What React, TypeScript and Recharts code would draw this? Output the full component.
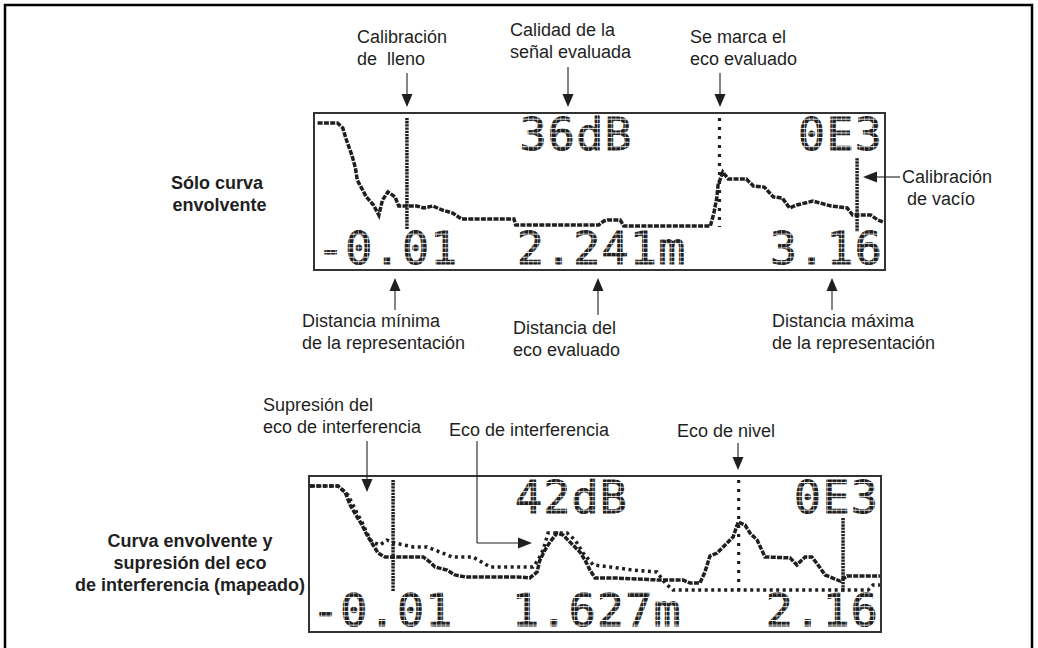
import { LineChart, Line, XAxis, YAxis, ReferenceLine } from "recharts";

// upper display: "Sólo curva envolvente" (distance in m, amplitude in LCD rows)
const topDist = [0.01, 0.12, 0.15, 0.17, 0.2, 0.22, 0.23, 0.26, 0.28, 0.32, 0.35, 0.37, 0.4, 0.44, 0.46, 0.56, 0.6, 0.65, 0.7, 0.76, 0.81, 1.1, 1.11, 1.57, 1.6, 1.62, 1.69, 1.71, 2.19, 2.21, 2.227, 2.233, 2.26, 2.29, 2.39, 2.43, 2.49, 2.54, 2.59, 2.63, 2.67, 2.76, 2.86, 2.95, 2.98, 3.08, 3.12, 3.15];
const topAmp = [59.9, 59.9, 57.9, 53, 46.9, 41.6, 36.7, 32.6, 29.8, 26.5, 22.4, 28.5, 31.8, 29.8, 26.1, 26.1, 25.3, 26.1, 24.5, 23.2, 20.8, 20.8, 18.3, 18.3, 20, 20.4, 20.4, 17.9, 17.9, 23.2, 29.8, 34.6, 39.9, 37.1, 37.1, 34.2, 33.8, 29.8, 29.3, 25.3, 26.5, 28.1, 26.1, 25.3, 22.4, 22.4, 20.4, 19.6];

// lower display: envelope + interference echo suppression map
const envDist = [-0.006, 0.1, 0.127, 0.146, 0.168, 0.191, 0.21, 0.233, 0.252, 0.278, 0.423, 0.449, 0.468, 0.514, 0.544, 0.582, 0.779, 0.828, 0.855, 0.866, 0.885, 0.904, 0.931, 0.954, 0.98, 1.018, 1.037, 1.056, 1.075, 1.143, 1.322, 1.409, 1.436, 1.473, 1.492, 1.511, 1.538, 1.576, 1.599, 1.618, 1.644, 1.663, 1.69, 1.72, 1.815, 1.841, 1.872, 1.898, 1.921, 1.948, 2.005, 2.031, 2.156];
const envAmp = [59.9, 59.9, 57.4, 52.1, 48, 43.9, 39.8, 35.7, 32.4, 30.8, 30.8, 28.7, 26.7, 25.4, 23.4, 22.6, 22.6, 22.2, 24.6, 29.5, 33.6, 36.9, 40.6, 39.8, 36.9, 32.8, 29.5, 25.4, 22.2, 22.2, 21.3, 21.3, 20.1, 20.1, 24.6, 31.2, 32.4, 36.5, 39, 45.1, 43.9, 40.6, 37.7, 30.8, 30.4, 27.5, 30.8, 30.8, 27.5, 23.4, 20.9, 23, 23];
const mapDist = [-0.006, 0.1, 0.138, 0.157, 0.176, 0.191, 0.21, 0.229, 0.259, 0.286, 0.316, 0.385, 0.438, 0.487, 0.533, 0.612, 0.677, 0.84, 0.859, 0.878, 0.897, 0.969, 1.0, 1.03, 1.068, 1.132, 1.219, 1.31, 1.341, 1.371, 2.111, 2.13, 2.156];
const mapAmp = [59.9, 59.9, 56.2, 52.1, 48, 45.1, 40.6, 36.9, 35.7, 37.7, 36.5, 34.9, 34.9, 32.8, 30.8, 30.8, 26.7, 26.7, 29.5, 33.6, 40.6, 40.6, 37.7, 32.4, 27.5, 26.7, 25.4, 24.6, 20.1, 17.2, 17.2, 19.3, 19.3];

// vertical markers: distance, from / to amplitude
const topMarkers = [
  { kind: "cal", x: 0.506, from: 62, to: 16.3 },
  { kind: "echo", x: 2.241, from: 62, to: 17.5 },
  { kind: "cal", x: 3.005, from: 45.6, to: 15.5 },
];
const bottomMarkers = [
  { kind: "cal", x: 0.309, from: 62.4, to: 16.4 },
  { kind: "echo", x: 1.62, from: 62.4, to: 16.4 },
  { kind: "cal", x: 2.016, from: 46.8, to: 16.4 },
];

// LCD readouts
const topReadout = ["36dB", "0E3", "-0.01", "2.241m", "3.16"];
const bottomReadout = ["42dB", "0E3", "-0.01", "1.627m", "2.16"];
const topRange = [-0.01, 3.16];
const bottomRange = [-0.01, 2.16];

const zip = (xs: number[], ys: number[]) => xs.map((x, i) => ({ x, y: ys[i] }));

const INK = "#1f1f1f";
const FONT = "'Liberation Sans', Arial, sans-serif";
const LCD_FONT = "'DejaVu Sans Mono', monospace";

function Lcd({ left, top, width, height, range, series, markers }: any) {
  return (
    <div style={{ position: "absolute", left, top }}>
      <LineChart width={width} height={height} margin={{ top: 0, right: 0, bottom: 0, left: 0 }}>
        <XAxis type="number" dataKey="x" domain={range} hide allowDataOverflow />
        <YAxis type="number" domain={[0, 64]} hide allowDataOverflow />
        {markers.map((m: any, i: number) => (
          <ReferenceLine
            key={i}
            segment={[{ x: m.x, y: m.from }, { x: m.x, y: m.to }]}
            stroke={INK}
            strokeWidth={m.kind === "cal" ? 3.5 : 3.2}
            strokeDasharray={m.kind === "cal" ? "2.3 0.9" : "3 6"}
          />
        ))}
        {series.map((s: any, i: number) => (
          <Line
            key={i}
            data={s.data}
            dataKey="y"
            type="linear"
            dot={false}
            stroke={INK}
            strokeWidth={3.5}
            strokeDasharray={s.dotted ? "3 3.5" : "5 1.3"}
            isAnimationActive={false}
          />
        ))}
      </LineChart>
    </div>
  );
}

function ArrowV({ x, y1, y2 }: { x: number; y1: number; y2: number }) {
  // shaft from y1 to arrow tip at y2
  const dir = y2 > y1 ? 1 : -1;
  return (
    <g>
      <line x1={x} y1={y1} x2={x} y2={y2 - dir * 12} stroke={INK} strokeWidth={1.1} />
      <polygon points={`${x - 5.5},${y2 - dir * 13} ${x + 5.5},${y2 - dir * 13} ${x},${y2}`} fill={INK} />
    </g>
  );
}

function ArrowH({ x1, x2, y }: { x1: number; x2: number; y: number }) {
  const dir = x2 > x1 ? 1 : -1;
  return (
    <g>
      <line x1={x1} y1={y} x2={x2 - dir * 12} y2={y} stroke={INK} strokeWidth={1.1} />
      <polygon points={`${x2 - dir * 14},${y - 5.5} ${x2 - dir * 14},${y + 5.5} ${x2},${y}`} fill={INK} />
    </g>
  );
}

function Lbl({ x, y, lines, bold, anchor }: any) {
  return (
    <text
      x={x}
      y={y}
      fontFamily={FONT}
      fontSize={18}
      fontWeight={bold ? 700 : 400}
      fill={INK}
      textAnchor={anchor || "start"}
    >
      {lines.map((t: string, i: number) => (
        <tspan key={i} x={x} dy={i === 0 ? 0 : 22} style={{ whiteSpace: "pre" }}>
          {t}
        </tspan>
      ))}
    </text>
  );
}

function Readout({ box, texts }: any) {
  const { left, top, width, height } = box;
  const base1 = top + 37;
  const base2 = top + height - 6;
  const common = {
    fontFamily: LCD_FONT,
    fontSize: 45,
    fill: "url(#lcdpx)",
    stroke: "url(#lcdpx)",
    strokeWidth: 0.9,
    letterSpacing: 1.2,
  };
  return (
    <g>
      <text x={left + width * 0.36} y={base1} {...common}>{texts[0]}</text>
      <text x={left + width - 2} y={base1} textAnchor="end" {...common}>{texts[1]}</text>
      <text x={left + 3} y={base2} {...common}>{texts[2]}</text>
      <text x={left + width * 0.355} y={base2} {...common}>{texts[3]}</text>
      <text x={left + width - 2} y={base2} textAnchor="end" {...common}>{texts[4]}</text>
    </g>
  );
}

export default function App() {
  const topBox = { left: 314, top: 113, width: 571, height: 157 };
  const botBox = { left: 309, top: 476, width: 572, height: 156 };

  return (
    <div style={{ position: "absolute", left: 0, top: 0, width: 1038, height: 648, background: "#fff", overflow: "hidden" }}>
      <Lcd
        {...topBox}
        range={topRange}
        series={[{ data: zip(topDist, topAmp) }]}
        markers={topMarkers}
      />
      <Lcd
        {...botBox}
        range={bottomRange}
        series={[
          { data: zip(mapDist, mapAmp), dotted: true },
          { data: zip(envDist, envAmp) },
        ]}
        markers={bottomMarkers}
      />

      <svg width={1038} height={648} style={{ position: "absolute", left: 0, top: 0, pointerEvents: "none" }}>
        <defs>
          <pattern id="lcdpx" width="4.6" height="4.6" patternUnits="userSpaceOnUse">
            <rect width="4.1" height="3.7" fill={INK} />
          </pattern>
        </defs>

        <rect x={5} y={5} width={1027} height={700} fill="none" stroke="#000" strokeWidth={2.5} />

        {[topBox, botBox].map((b, i) => (
          <rect key={i} x={b.left} y={b.top} width={b.width} height={b.height} fill="none" stroke="#333" strokeWidth={2} />
        ))}

        <Readout box={topBox} texts={topReadout} />
        <Readout box={botBox} texts={bottomReadout} />

        {/* upper display annotations */}
        <Lbl x={357} y={43} lines={["Calibración", "de  lleno"]} />
        <ArrowV x={407} y1={73} y2={107} />
        <Lbl x={510} y={36} lines={["Calidad de la", "señal evaluada"]} />
        <ArrowV x={568} y1={67} y2={107} />
        <Lbl x={690} y={43} lines={["Se marca el", "eco evaluado"]} />
        <ArrowV x={720} y1={73} y2={107} />

        <ArrowH x1={900} x2={863} y={177} />
        <Lbl x={902} y={183} lines={["Calibración", " de vacío"]} />

        <Lbl x={217} y={189} lines={["Sólo curva", " envolvente"]} bold anchor="middle" />

        <ArrowV x={395} y1={310} y2={278} />
        <Lbl x={302} y={327} lines={["Distancia mínima", "de la representación"]} />
        <ArrowV x={598} y1={315} y2={278} />
        <Lbl x={513} y={334} lines={["Distancia del", "eco evaluado"]} />
        <ArrowV x={832} y1={310} y2={278} />
        <Lbl x={772} y={327} lines={["Distancia máxima", "de la representación"]} />

        {/* lower display annotations */}
        <Lbl x={263} y={411} lines={["Supresión del", "eco de interferencia"]} />
        <ArrowV x={367} y1={441} y2={492} />
        <Lbl x={449} y={436} lines={["Eco de interferencia"]} />
        <line x1={477} y1={441} x2={477} y2={543} stroke={INK} strokeWidth={1.1} />
        <ArrowH x1={477} x2={532} y={543} />
        <Lbl x={677} y={437} lines={["Eco de nivel"]} />
        <ArrowV x={738} y1={443} y2={470} />

        <Lbl x={190} y={547} lines={["Curva envolvente y", "supresión del eco", "de interferencia (mapeado)"]} bold anchor="middle" />
      </svg>
    </div>
  );
}
